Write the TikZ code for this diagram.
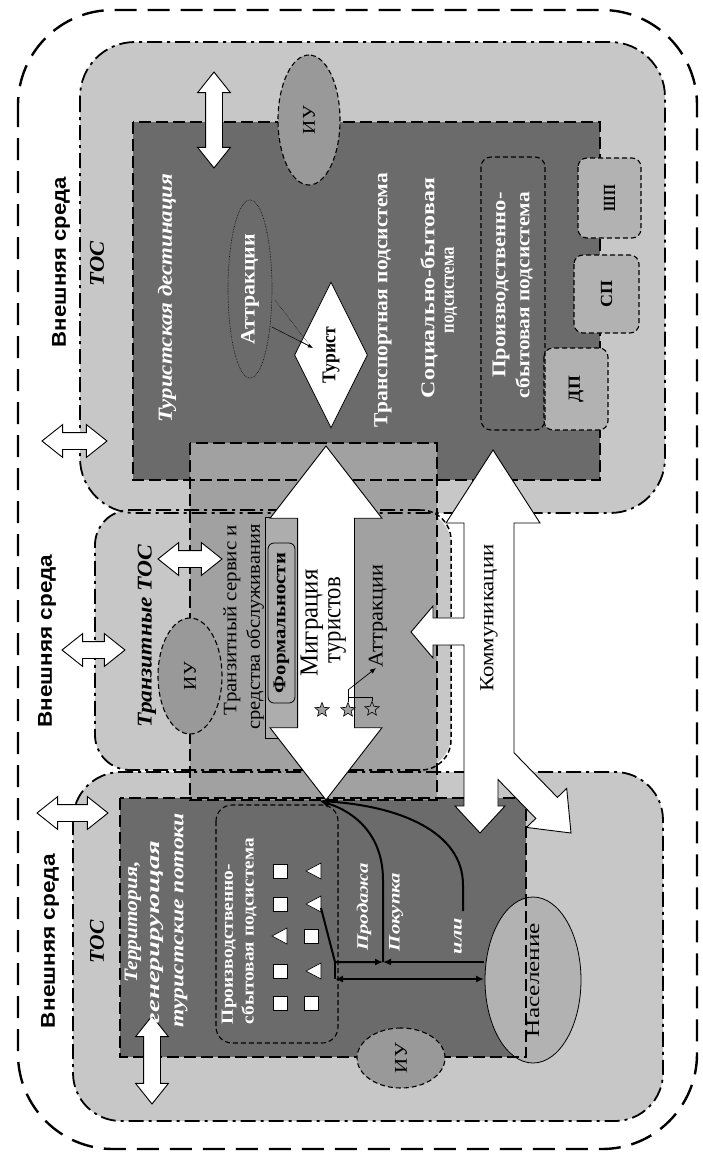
\documentclass[tikz,border=0pt]{standalone}
\usepackage{fontspec}
\setmainfont{Liberation Serif}
\newfontfamily\sansb{Liberation Sans}
\usetikzlibrary{shapes.geometric,shapes.arrows,arrows.meta}
\newsavebox\fitbox
\newlength\fitlen
\newcommand{\fitw}[2]{\sbox\fitbox{#2}\setlength\fitlen{\wd\fitbox}\pgfmathsetmacro\fitratio{#1/\fitlen}\scalebox{\fitratio}[1]{\usebox\fitbox}}
\definecolor{tocg}{gray}{0.78}
\definecolor{darkg}{gray}{0.42}
\definecolor{svcg}{gray}{0.63}
\definecolor{iug}{gray}{0.60}
\definecolor{boxg}{gray}{0.70}
\definecolor{popg}{gray}{0.70}
\definecolor{formg}{gray}{0.68}
\tikzset{
  outerframe/.style={draw=black, line width=2.4pt, dash pattern=on 22pt off 11pt, rounded corners=95pt},
  tocfill/.style={fill=tocg},
  tocline/.style={draw=black, line width=1.8pt, dash pattern=on 15pt off 5pt on 3pt off 5pt},
  darkline/.style={draw=black, line width=2.2pt, dash pattern=on 12pt off 5pt},
  smalldash/.style={draw=black, line width=1.1pt, dash pattern=on 5pt off 3pt},
  lbl/.style={rotate=90, inner sep=0pt},
  iu/.style={ellipse, rotate=90, fill=iug, smalldash, inner sep=0pt, font=\fontsize{18}{20}\selectfont},
  subbox/.style={rectangle, rotate=90, rounded corners=9pt, fill=boxg, smalldash, inner sep=0pt, font=\bfseries\fontsize{17}{20}\selectfont},
  wharrow/.style={double arrow, draw=black, fill=white, line width=0.9pt, inner xsep=0pt, inner ysep=8pt, double arrow tip angle=77, double arrow head extend=8pt},
  flow/.style={draw=black, line width=2pt},
  whitetext/.style={lbl, text=white},
  wb/.style={whitetext, font=\bfseries\fontsize{19.5}{20}\selectfont},
  starnode/.style={star, star points=5, star point ratio=2.3, draw=black, fill=svcg, line width=0.6pt, minimum size=15pt, inner sep=0pt},
}
\begin{document}
\begin{tikzpicture}[x=1pt,y=-1pt]
\useasboundingbox (0,0) rectangle (703,1157);
\fill[white] (0,0) rectangle (703,1157);
% outer environment frame
\draw[outerframe] (18,10) rectangle (697,1149);
% TOC fills
\fill[tocfill, rounded corners=55pt] (80,42) rectangle (665,513);
\fill[tocfill, rounded corners=35pt] (95,510) rectangle (451,770);
\fill[tocfill, rounded corners=48pt] (73,772) rectangle (663,1121);
% dark rectangles
\fill[darkg] (133,122) rectangle (600,480);
\fill[darkg] (120,798) rectangle (526,1057);
% population ellipse (under border)
\node[ellipse, rotate=90, fill=popg, draw=black, line width=0.8pt, minimum width=166pt, minimum height=96pt, inner sep=0pt, font=\fontsize{19}{20}\selectfont] (pop) at (533,980) {\fitw{114}{Население}};
% transit service rectangle
\draw[fill=svcg, line width=2.2pt, dash pattern=on 12pt off 5pt] (190,443) rectangle (437,800);
% dark borders
\draw[darkline] (133,122) rectangle (600,480);
\draw[darkline] (120,798) rectangle (526,1057);
% TOC borders
\draw[tocline, rounded corners=55pt] (80,42) rectangle (665,513);
\draw[tocline, rounded corners=35pt] (420,770) -- (95,770) -- (95,510) -- (420,510);
\draw[smalldash, line width=1.5pt, rounded corners=30pt] (420,510) -- (451,510) -- (451,770) -- (420,770);
\draw[tocline, rounded corners=48pt] (73,772) rectangle (663,1121);
% sub boxes of destination
\node[subbox, minimum width=80pt, minimum height=63pt] (shp) at (609.5,198) {\fitw{26}{ШП}};
\node[subbox, minimum width=78pt, minimum height=65pt] (sp) at (606.5,294) {\fitw{27}{СП}};
\node[subbox, minimum width=82pt, minimum height=64pt] (dp) at (576,389) {\fitw{26}{ДП}};
% production subsystem frames
\draw[smalldash, rounded corners=10pt] (481,157) rectangle (545,430);
\draw[smalldash, rounded corners=16pt] (216,805) rectangle (338,1043);
% IU ellipses
\node[iu, minimum width=130pt, minimum height=62pt] (iu1) at (309,120) {\fitw{28}{ИУ}};
\node[iu, minimum width=116pt, minimum height=64pt] (iu2) at (190,676) {\fitw{28}{ИУ}};
\node[iu, minimum width=60pt, minimum height=88pt] (iu3) at (401,1058) {\fitw{30}{ИУ}};
% attractions ellipse in destination
\node[ellipse, rotate=90, draw=black, line width=0.6pt, densely dotted, minimum width=178pt, minimum height=44pt, inner sep=0pt, text=white, font=\bfseries\fontsize{20.5}{21}\selectfont] (attr) at (250,289) {\fitw{110}{Аттракции}};
% squares and triangles
\foreach \px/\py in {280/871,280/904,280/971,280/1003,311/936,311/1003}
  \draw[fill=white, line width=0.6pt] (\px-7,\py-7) rectangle (\px+7,\py+7);
\foreach \px/\py in {280/936,314/871,314/904,314/971}
  \draw[fill=white, line width=0.6pt] (\px-8,\py) -- (\px+7,\py-8) -- (\px+7,\py+8) -- cycle;
% formalities column
\draw[fill=formg, line width=0.7pt] (265,517) rectangle (297,738);
\node[rectangle, rotate=90, rounded corners=6pt, draw=black, line width=0.8pt, fill=formg, minimum width=160pt, minimum height=27pt, inner sep=0pt, font=\bfseries\fontsize{18}{20}\selectfont] (form) at (281.5,623) {\fitw{140}{Формальности}};
% migration arrow
\node[double arrow, rotate=90, draw=black, fill=white, line width=0.9pt, inner xsep=0pt, inner ysep=28pt, minimum height=354pt, minimum width=111pt, double arrow head extend=27.5pt, double arrow tip angle=75.5] (migr) at (326,623) {};
% communications arrow
\draw[fill=white, draw=black, line width=0.9pt] (493,450) -- (540,523) -- (514,523) -- (514,752.7) -- (557.4,797.4) -- (566.7,788.4) -- (571,833) -- (526.5,827.4) -- (535.8,818.4) -- (498,779.5) -- (498,806) -- (505,806) -- (480,833) -- (455,806) -- (464,806) -- (464,645) -- (433,645) -- (433,658) -- (411,632) -- (433,606) -- (433,618) -- (464,618) -- (464,523) -- (446,523) -- cycle;
% small white double arrows
\node[wharrow, minimum height=65pt, minimum width=32pt] (a1) at (74.5,441) {};
\node[wharrow, minimum height=63pt, minimum width=31pt] (a2) at (93.5,650) {};
\node[wharrow, minimum height=64pt, minimum width=32pt] (a3) at (190,559) {};
\node[wharrow, minimum height=71pt, minimum width=30pt] (a4) at (72.5,813) {};
\node[wharrow, rotate=90, minimum height=96pt, minimum width=32pt] (v1) at (214,120) {};
\node[wharrow, rotate=90, minimum height=88pt, minimum width=30pt] (v2) at (152,1060) {};
% tourist diamond
\node[diamond, rotate=90, draw=black, fill=white, line width=0.8pt, minimum width=146pt, minimum height=54pt, inner sep=0pt, font=\bfseries\fontsize{19.5}{20}\selectfont] (tour) at (331,355) {\fitw{56}{Турист}};
\draw[line width=0.5pt] (272,327) -- (311,347);
\draw[line width=0.5pt, densely dotted] (275,300) -- (311,347);
\draw[-{Latex[length=5pt,width=4pt]}, line width=0.6pt] (300,341) -- (313,348);
% stars
\node[starnode] (st1) at (322,710) {};
\node[starnode] (st2) at (348,710) {};
\node[starnode] (st3) at (372,709) {};
\coordinate (sj) at (348,690);
\coordinate (sa) at (376,668);
\draw[line width=0.7pt] (st2.north) -- (sj);
\draw[line width=0.7pt] (st3.north) |- (348,697);
\draw[line width=0.7pt, -{Latex[length=6pt,width=5pt]}] (sj) -- (sa);
% flows in generating territory
\coordinate (P) at (320,801);
\coordinate (tri) at (321,908);
\coordinate (J1) at (383,962);
\coordinate (popL) at (484,962);
\coordinate (ili) at (463,911);
\coordinate (d1) at (335,979);
\coordinate (d2) at (484,979);
\draw[flow, -{Latex[length=8pt,width=7pt]}] (tri) -- (335,962) -- (J1);
\draw[flow, -{Latex[length=8pt,width=7pt]}] (popL) -- (J1);
\draw[flow, -{Latex[length=9pt,width=8pt]}] (J1) -- (383,880) .. controls (383,835) and (355,812) .. (P);
\draw[flow, -{Latex[length=9pt,width=8pt]}] (ili) -- (463,885) .. controls (463,832) and (400,806) .. (P);
\draw[flow] (335,962) -- (d1);
\draw[flow, {Latex[length=8pt,width=7pt]}-{Latex[length=8pt,width=7pt]}] (d1) -- (d2);
% texts
\node[lbl, font=\sansb\bfseries\fontsize{20}{24}\selectfont] (env1) at (61,262) {\fitw{170}{Внешняя среда}};
\node[lbl, font=\sansb\bfseries\fontsize{20}{24}\selectfont] (env2) at (47,641) {\fitw{173}{Внешняя среда}};
\node[lbl, font=\sansb\bfseries\fontsize{20}{24}\selectfont] (env3) at (50,941) {\fitw{174}{Внешняя среда}};
\node[lbl, font=\bfseries\itshape\fontsize{21}{24}\selectfont] (toc1) at (97,264) {\fitw{45}{ТОС}};
\node[lbl, font=\bfseries\itshape\fontsize{21}{24}\selectfont] (toc3) at (97,942) {\fitw{43}{ТОС}};
\node[lbl, font=\bfseries\itshape\fontsize{21}{24}\selectfont] (ttoc) at (147,636) {\fitw{183}{Транзитные ТОС}};
\node[whitetext, font=\bfseries\itshape\fontsize{20}{20}\selectfont] (dest) at (167,298) {\fitw{249}{Туристская дестинация}};
\node[wb, font=\bfseries\fontsize{20}{20}\selectfont] (transp) at (383,300) {\fitw{254}{Транспортная подсистема}};
\node[wb] (social1) at (429,288) {\fitw{220}{Социально-бытовая}};
\node[wb] (social2) at (451,290) {\fitw{86}{подсистема}};
\node[wb] (prod1a) at (501,285) {\fitw{185}{Производственно-}};
\node[wb] (prod1b) at (524,295) {\fitw{206}{сбытовая подсистема}};
\node[lbl, font=\fontsize{19}{20}\selectfont] (tserv1) at (232,620) {\fitw{190}{Транзитный сервис и}};
\node[lbl, font=\fontsize{19}{20}\selectfont] (tserv2) at (255,627) {\fitw{205}{средства обслуживания}};
\node[lbl, font=\fontsize{26}{26}\selectfont] (mig1) at (312,623) {\fitw{107}{Миграция}};
\node[lbl, font=\fontsize{26}{26}\selectfont] (mig2) at (337,620) {\fitw{86}{туристов}};
\node[lbl, font=\fontsize{21}{22}\selectfont] (attr2) at (378,616) {\fitw{103}{Аттракции}};
\node[lbl, font=\fontsize{20}{22}\selectfont] (comm) at (489,618) {\fitw{147}{Коммуникации}};
\node[whitetext, font=\bfseries\itshape\fontsize{19}{20}\selectfont] (terr1) at (133,922) {\fitw{121}{Территория,}};
\node[whitetext, font=\bfseries\itshape\fontsize{19}{20}\selectfont] (terr2) at (157,932) {\fitw{182}{генерирующая}};
\node[whitetext, font=\bfseries\itshape\fontsize{19}{20}\selectfont] (terr3) at (181,920) {\fitw{214}{туристские потоки}};
\node[wb, font=\bfseries\fontsize{17}{20}\selectfont] (prod2a) at (229,944) {\fitw{160}{Производственно-}};
\node[wb, font=\bfseries\fontsize{17}{20}\selectfont] (prod2b) at (249,931) {\fitw{186}{сбытовая подсистема}};
\node[whitetext, font=\bfseries\itshape\fontsize{16}{18}\selectfont] (sale) at (364,907) {\fitw{87}{Продажа}};
\node[whitetext, font=\bfseries\itshape\fontsize{16}{18}\selectfont] (buy) at (396,912) {\fitw{78}{Покупка}};
\node[whitetext, font=\bfseries\itshape\fontsize{16}{18}\selectfont] (ili2) at (458,936) {\fitw{36}{или}};
\end{tikzpicture}
\end{document}
